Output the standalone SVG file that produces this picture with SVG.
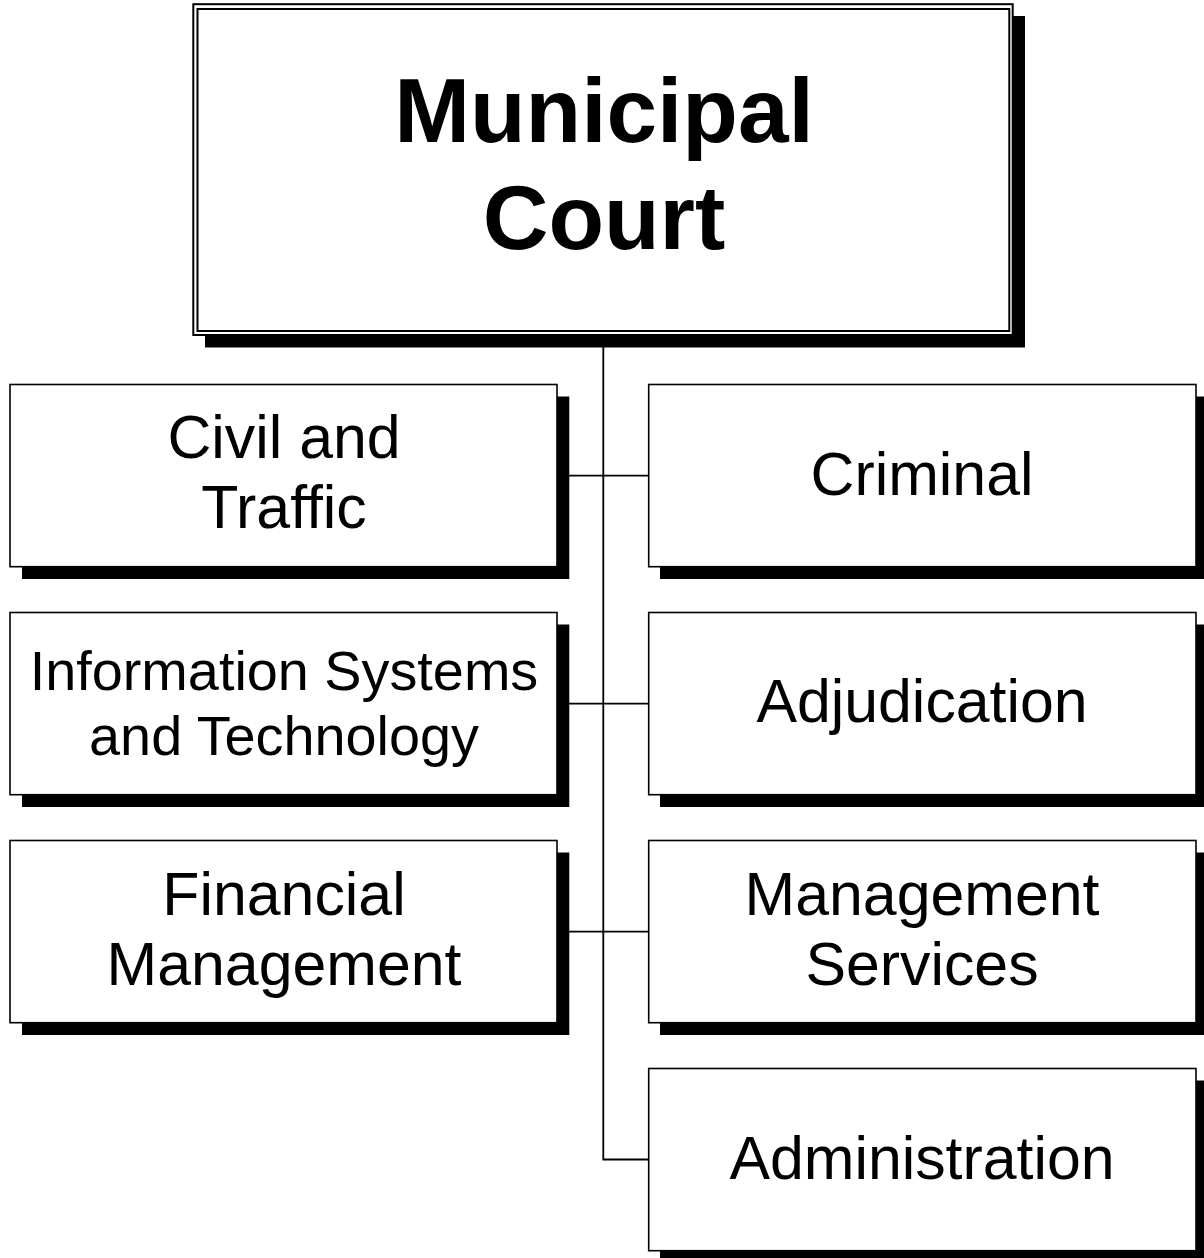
<svg xmlns="http://www.w3.org/2000/svg" width="1204" height="1258" viewBox="0 0 1204 1258">
<style>
.shadow{fill:#000}
.box{fill:#fff;stroke:#000;stroke-width:1.6}
.frame{fill:none;stroke:#000;stroke-width:2}
.conn{fill:none;stroke:#000;stroke-width:1.8}
.t{font-family:"Liberation Sans",Arial,sans-serif;font-size:60.8px;fill:#000;text-anchor:middle}
.t.s{font-size:55.8px}
.title{font-family:"Liberation Sans",Arial,sans-serif;font-size:91px;font-weight:bold;fill:#000;text-anchor:middle}
</style>
<rect width="1204" height="1258" fill="#fff"/>
<g id="connectors">
<path class="conn" d="M603.3,335 V1159.5 H649"/>
<path class="conn" d="M557,475.7 H649"/>
<path class="conn" d="M557,703.7 H649"/>
<path class="conn" d="M557,931.7 H649"/>
</g>
<g id="municipal-court">
<rect class="shadow" x="205" y="16" width="820" height="331.5"/>
<rect x="193.3" y="4.2" width="819.4" height="330.8" fill="#fff" stroke="#000" stroke-width="2"/>
<rect class="frame" x="197.5" y="9" width="811.8" height="322"/>
<text class="title" x="604" y="142">Municipal</text>
<text class="title" x="604" y="249">Court</text>
</g>
<g id="civil-traffic">
<rect class="shadow" x="22" y="396.5" width="547.3" height="182.5"/>
<rect class="box" x="10" y="384.5" width="547" height="182.2"/>
<text class="t" x="284" y="458">Civil and</text>
<text class="t" x="284" y="528">Traffic</text>
</g>
<g id="information-systems">
<rect class="shadow" x="22" y="624.5" width="547.3" height="182.5"/>
<rect class="box" x="10" y="612.5" width="547" height="182.2"/>
<text class="t s" x="284" y="690">Information Systems</text>
<text class="t s" x="284" y="755">and Technology</text>
</g>
<g id="financial-management">
<rect class="shadow" x="22" y="852.5" width="547.3" height="182.5"/>
<rect class="box" x="10" y="840.5" width="547" height="182.2"/>
<text class="t" x="284" y="915">Financial</text>
<text class="t" x="284" y="985">Management</text>
</g>
<g id="criminal">
<rect class="shadow" x="660" y="396.5" width="548" height="182.5"/>
<rect class="box" x="648.7" y="384.5" width="547.3" height="182.2"/>
<text class="t" x="922" y="495">Criminal</text>
</g>
<g id="adjudication">
<rect class="shadow" x="660" y="624.5" width="548" height="182.5"/>
<rect class="box" x="648.7" y="612.5" width="547.3" height="182.2"/>
<text class="t" x="922" y="722">Adjudication</text>
</g>
<g id="management-services">
<rect class="shadow" x="660" y="852.5" width="548" height="182.5"/>
<rect class="box" x="648.7" y="840.5" width="547.3" height="182.2"/>
<text class="t" x="922" y="915">Management</text>
<text class="t" x="922" y="985">Services</text>
</g>
<g id="administration">
<rect class="shadow" x="660" y="1080.5" width="548" height="182.5"/>
<rect class="box" x="648.7" y="1068.5" width="547.3" height="182.2"/>
<text class="t" x="922" y="1179">Administration</text>
</g>
</svg>
